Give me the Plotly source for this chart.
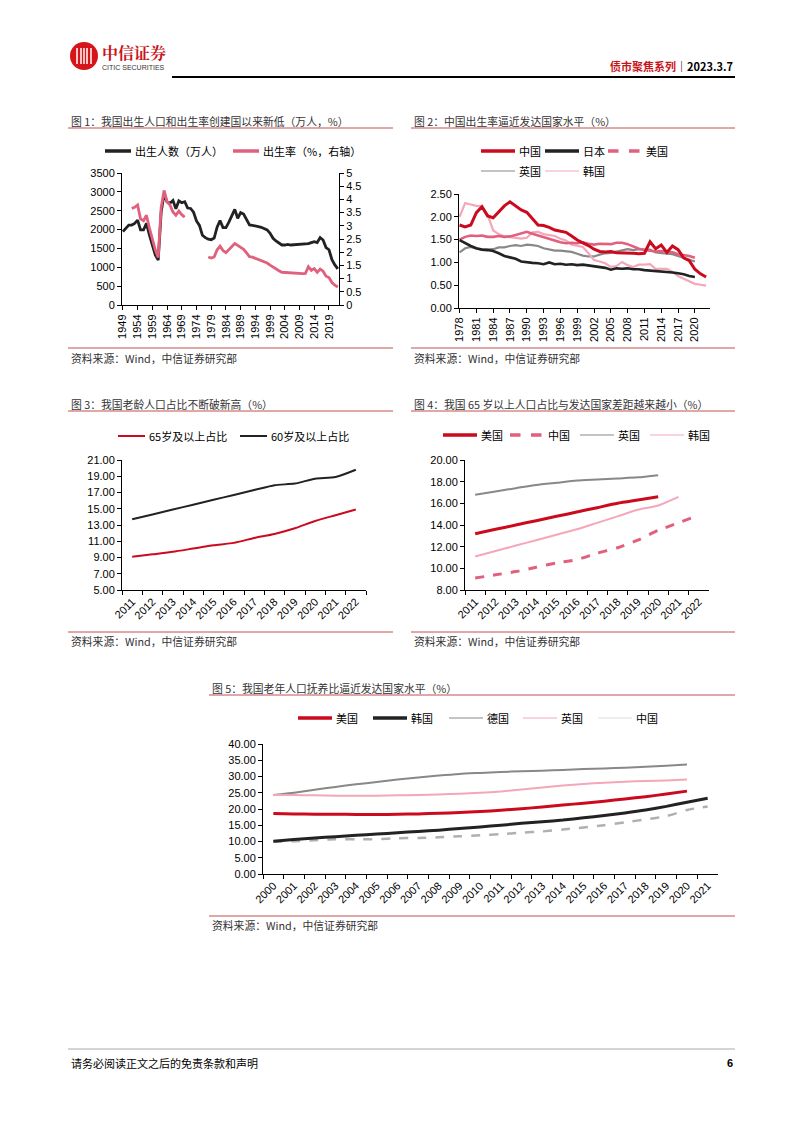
import plotly.graph_objects as go

W, H = 802, 1133
def X(px): return px / W
def Y(py): return 1 - py / H

FONT = "Liberation Sans, Arial, Noto Sans CJK SC, sans-serif"
CJK = "Noto Sans CJK SC, sans-serif"

RED = "#CC0A1E"
BLACK = "#222222"
PINK = "#E0607E"
LPINK = "#F4A7B9"
GRAY = "#888888"
LGRAY = "#B0B0B0"
LINE_RED = "#C0504D"

# ---------------- Data ----------------
# Chart 1: births (万人) 1949-2022 and birth rate (%)
c1_years = list(range(1949, 2023))
c1_births = [1945, 2030, 2120, 2120, 2165, 2250, 1990, 1990, 2165, 1860, 1565, 1330, 1190,
             2460, 2950, 2730, 2700, 2770, 2550, 2760, 2710, 2740, 2570, 2560, 2460, 2230,
             2110, 1850, 1785, 1745, 1730, 1776, 2064, 2237, 2052, 2050, 2196, 2374, 2537,
             2300, 2449, 2413, 2254, 2122, 2113, 2104, 2077, 2060, 2033, 1990, 1900, 1768,
             1697, 1635, 1591, 1591, 1609, 1591, 1594, 1600, 1600, 1609, 1604, 1626, 1653,
             1680, 1655, 1786, 1723, 1523, 1465, 1202, 1062, 956]
c1_rate = [None, None, None, 3.66, 3.70, 3.79, 3.26, 3.19, 3.40, 2.92, 2.48, 2.09, 1.80,
           3.70, 4.34, 3.91, 3.79, 3.52, 3.40, 3.56, 3.42, 3.33, None, None, None, None,
           None, None, None, 1.82, 1.78, 1.82, 2.09, 2.23, 2.06, 1.98, 2.10, 2.24, 2.33,
           2.26, 2.18, 2.11, 1.97, 1.83, 1.81, 1.77, 1.71, 1.69, 1.66, 1.59, 1.51, 1.43,
           1.37, 1.30, 1.24, 1.23, 1.24, 1.21, 1.21, 1.21, 1.20, 1.19, 1.20, 1.45, 1.31,
           1.38, 1.24, 1.36, 1.28, 1.09, 1.04, 0.85, 0.75, 0.68]

# Chart 2: crude birth rate (%) 1978-2022
c2_years = list(range(1978, 2023))
c2_china = [1.82, 1.78, 1.82, 2.09, 2.22, 2.02, 1.98, 2.10, 2.24, 2.33, 2.23, 2.15, 2.10,
            1.97, 1.82, 1.81, 1.77, 1.71, 1.69, 1.66, 1.58, 1.49, 1.43, 1.37, 1.29, 1.24,
            1.23, 1.24, 1.21, 1.21, 1.21, 1.20, 1.19, 1.20, 1.45, 1.30, 1.38, 1.22, 1.36,
            1.28, 1.10, 1.04, 0.85, 0.75, 0.68]
c2_japan = [1.49, 1.42, 1.36, 1.31, 1.28, 1.27, 1.25, 1.20, 1.14, 1.11, 1.08, 1.02, 1.00,
            0.99, 0.98, 0.96, 1.00, 0.96, 0.97, 0.95, 0.96, 0.94, 0.95, 0.93, 0.92, 0.89,
            0.88, 0.84, 0.87, 0.86, 0.87, 0.85, 0.85, 0.83, 0.82, 0.82, 0.80, 0.80, 0.78,
            0.76, 0.74, 0.70, 0.68]
c2_us = [1.50, 1.56, 1.59, 1.58, 1.59, 1.56, 1.56, 1.58, 1.56, 1.57, 1.60, 1.64, 1.67,
         1.63, 1.59, 1.55, 1.52, 1.48, 1.44, 1.42, 1.43, 1.42, 1.44, 1.41, 1.39, 1.41,
         1.40, 1.40, 1.43, 1.43, 1.40, 1.35, 1.30, 1.27, 1.26, 1.24, 1.25, 1.24, 1.22,
         1.18, 1.16, 1.14, 1.10]
c2_uk = [1.22, 1.31, 1.34, 1.30, 1.28, 1.28, 1.29, 1.33, 1.33, 1.36, 1.38, 1.36, 1.39,
         1.38, 1.36, 1.31, 1.29, 1.26, 1.26, 1.25, 1.23, 1.19, 1.15, 1.13, 1.13, 1.17,
         1.20, 1.21, 1.24, 1.26, 1.29, 1.27, 1.29, 1.28, 1.28, 1.22, 1.20, 1.19, 1.18,
         1.14, 1.10, 1.07, 1.02]
c2_korea = [2.00, 2.30, 2.27, 2.24, 2.23, 2.05, 1.70, 1.62, 1.57, 1.55, 1.53, 1.52, 1.54,
            1.66, 1.67, 1.62, 1.60, 1.58, 1.52, 1.48, 1.39, 1.36, 1.34, 1.20, 1.05, 1.02,
            0.98, 0.90, 0.92, 1.01, 0.94, 0.90, 0.95, 0.95, 0.96, 0.86, 0.86, 0.86, 0.79,
            0.70, 0.64, 0.59, 0.53, 0.51, 0.49]

# Chart 3 / 4: share of elderly population (%) 2011-2022
c3_years = [str(y) for y in range(2011, 2023)]
c3_65 = [9.1, 9.4, 9.7, 10.1, 10.5, 10.8, 11.4, 11.9, 12.6, 13.5, 14.2, 14.9]
c3_60 = [13.7, 14.3, 14.9, 15.5, 16.1, 16.7, 17.3, 17.9, 18.1, 18.7, 18.9, 19.8]

c4_us = [13.2, 13.6, 14.0, 14.4, 14.8, 15.2, 15.6, 16.0, 16.3, 16.6]
c4_uk = [16.8, 17.1, 17.4, 17.7, 17.9, 18.1, 18.2, 18.3, 18.4, 18.6]
c4_korea = [11.1, 11.6, 12.1, 12.6, 13.1, 13.6, 14.2, 14.8, 15.4, 15.8, 16.6]
c4_china = c3_65

# Chart 5: old-age dependency ratio (%) 2000-2021
c5_years = [str(y) for y in range(2000, 2022)]
c5_us = [18.6, 18.5, 18.4, 18.4, 18.3, 18.3, 18.4, 18.5, 18.7, 18.9, 19.2, 19.6, 20.1,
         20.6, 21.2, 21.8, 22.4, 23.1, 23.8, 24.6, 25.5]
c5_korea = [10.1, 10.6, 11.1, 11.5, 11.9, 12.3, 12.7, 13.1, 13.5, 14.0, 14.5, 15.0, 15.6,
            16.1, 16.6, 17.3, 18.0, 18.8, 19.7, 20.8, 22.1, 23.3]
c5_germany = [24.3, 25.0, 25.9, 26.8, 27.6, 28.3, 29.1, 29.7, 30.3, 30.8, 31.1, 31.4, 31.6,
              31.8, 32.0, 32.3, 32.5, 32.7, 33.0, 33.3, 33.7]
c5_uk = [24.3, 24.3, 24.2, 24.1, 24.1, 24.1, 24.2, 24.3, 24.5, 24.7, 25.0, 25.4, 26.0,
         26.6, 27.2, 27.7, 28.1, 28.4, 28.6, 28.8, 29.1]
c5_china = [9.9, 10.1, 10.4, 10.7, 10.7, 10.7, 11.0, 11.1, 11.3, 11.6, 11.9, 12.3, 12.7,
            13.1, 13.7, 14.3, 15.0, 15.9, 16.8, 17.8, 19.7, 20.8]

fig = go.Figure()

def line(x, y, xa, ya, color, width, dash="solid", spline=False, name=""):
    fig.add_trace(go.Scatter(x=x, y=y, xaxis=xa, yaxis=ya, mode="lines", name=name,
                             line=dict(color=color, width=width, dash=dash,
                                       shape="spline" if spline else "linear",
                                       smoothing=0.6),
                             connectgaps=False, showlegend=False, hoverinfo="skip"))

# Chart 1
line(c1_years, c1_births, "x", "y", BLACK, 2.8, name="出生人数")
line(c1_years, c1_rate, "x", "y2", PINK, 2.8, name="出生率")
# Chart 2
line(c2_years, c2_uk, "x2", "y3", GRAY, 2.2, name="英国")
line(c2_years, c2_korea, "x2", "y3", LPINK, 2.2, name="韩国")
line(c2_years, c2_us, "x2", "y3", PINK, 2.6, name="美国")
line(c2_years, c2_japan, "x2", "y3", BLACK, 2.6, name="日本")
line(c2_years, c2_china, "x2", "y3", RED, 3, name="中国")
# Chart 3
line(c3_years, c3_65, "x3", "y4", RED, 2, spline=True)
line(c3_years, c3_60, "x3", "y4", BLACK, 2, spline=True)
# Chart 4
line(c3_years[:len(c4_uk)], c4_uk, "x4", "y5", GRAY, 2, spline=True)
line(c3_years[:len(c4_korea)], c4_korea, "x4", "y5", LPINK, 2, spline=True)
line(c3_years, c4_china, "x4", "y5", PINK, 3, dash="dash", spline=True)
line(c3_years[:len(c4_us)], c4_us, "x4", "y5", RED, 3, spline=True)
# Chart 5
line(c5_years[:len(c5_germany)], c5_germany, "x5", "y6", GRAY, 2, spline=True)
line(c5_years[:len(c5_uk)], c5_uk, "x5", "y6", LPINK, 2, spline=True)
line(c5_years, c5_china, "x5", "y6", LGRAY, 2.5, dash="dash", spline=True)
line(c5_years, c5_korea, "x5", "y6", BLACK, 3, spline=True)
line(c5_years[:len(c5_us)], c5_us, "x5", "y6", RED, 3, spline=True)

tickfont = dict(family=FONT, size=11, color="#000000")
axcommon = dict(showgrid=False, zeroline=False, showline=True, linecolor="#000000",
                linewidth=1, ticks="outside", ticklen=4, tickcolor="#000000",
                tickfont=tickfont, fixedrange=True, automargin=False)

layout = dict(
    width=W, height=H, margin=dict(l=0, r=0, t=0, b=0, autoexpand=False),
    paper_bgcolor="white", plot_bgcolor="white", showlegend=False,
    font=dict(family=FONT, size=11, color="#000000"),
    # Chart 1
    xaxis=dict(domain=[X(122), X(339)], anchor="y", range=[1948.7, 2022.4],
               tickvals=list(range(1949, 2020, 5)), tickangle=-90, **axcommon),
    yaxis=dict(domain=[Y(305), Y(173)], anchor="x", range=[0, 3500], dtick=500, **axcommon),
    yaxis2=dict(overlaying="y", anchor="x", side="right", range=[0, 5],
                tickvals=[0, 0.5, 1, 1.5, 2, 2.5, 3, 3.5, 4, 4.5, 5],
                ticktext=["0", "0.5", "1", "1.5", "2", "2.5", "3", "3.5", "4", "4.5", "5"],
                **axcommon),
    # Chart 2
    xaxis2=dict(domain=[X(459), X(710)], anchor="y3", range=[1977.9, 2022.7],
                tickvals=list(range(1978, 2021, 3)), tickangle=-90, **axcommon),
    yaxis3=dict(domain=[Y(308), Y(194)], anchor="x2", range=[0, 2.5], dtick=0.5, tick0=0,
                tickformat=".2f", **axcommon),
    # Chart 3
    xaxis3=dict(domain=[X(122), X(366)], anchor="y4", type="category", tickson="boundaries",
                tickangle=-45, categoryorder="array", categoryarray=c3_years,
                range=[-0.5, len(c3_years) - 0.5], **axcommon),
    yaxis4=dict(domain=[Y(590), Y(460)], anchor="x3", range=[5, 21], dtick=2, tick0=5,
                tickformat=".2f", **axcommon),
    # Chart 4
    xaxis4=dict(domain=[X(465), X(709)], anchor="y5", type="category", tickson="boundaries",
                tickangle=-45, categoryorder="array", categoryarray=c3_years,
                range=[-0.5, len(c3_years) - 0.5], **axcommon),
    yaxis5=dict(domain=[Y(590), Y(460)], anchor="x4", range=[8, 20], dtick=2, tick0=8,
                tickformat=".2f", **axcommon),
    # Chart 5
    xaxis5=dict(domain=[X(263), X(718)], anchor="y6", type="category", tickson="boundaries",
                tickangle=-45, categoryorder="array", categoryarray=c5_years,
                range=[-0.5, len(c5_years) - 0.5], **axcommon),
    yaxis6=dict(domain=[Y(874), Y(744)], anchor="x5", range=[0, 40], dtick=5, tick0=0,
                tickformat=".2f", **axcommon),
)
fig.update_layout(**layout)

shapes = []
annotations = []

def hline(x0, x1, y, color, width, dash="solid"):
    shapes.append(dict(type="line", xref="paper", yref="paper", x0=X(x0), x1=X(x1),
                       y0=Y(y), y1=Y(y), line=dict(color=color, width=width, dash=dash)))

def text(x, y, s, size=11, color="#000000", anchor="left", bold=False, family=CJK):
    if bold:
        s = "<b>" + s + "</b>"
    annotations.append(dict(xref="paper", yref="paper", x=X(x), y=Y(y), text=s,
                            showarrow=False, xanchor=anchor, yanchor="middle",
                            font=dict(family=family, size=size, color=color)))

def legend_item(x, y, label, color, width, dash="solid", length=34):
    hline(x, x + length, y, color, width, dash)
    text(x + length + 2, y, label, size=11)

# Header
shapes.append(dict(type="circle", xref="paper", yref="paper", x0=X(70), x1=X(98),
                    y0=Y(70), y1=Y(42), fillcolor="#D7141A", line=dict(width=0)))
for xx in [77, 81, 84, 87, 91]:
    shapes.append(dict(type="line", xref="paper", yref="paper", x0=X(xx), x1=X(xx),
                       y0=Y(64), y1=Y(48), line=dict(color="white", width=1.5)))
text(100, 52, "中信证券", size=16, color="#C8141A", bold=True, family="Noto Serif CJK SC, Noto Sans CJK SC")
text(100, 67.5, "CITIC SECURITIES", size=7, color="#333333", family=FONT)
text(735, 66, "<span style='color:#C8141A'>债市聚焦系列</span>｜2023.3.7", size=11,
     anchor="right", bold=True)
hline(172, 735, 77, "#000000", 2)

# Titles and title rules
TS = 10.8
text(69, 121, "图 1：我国出生人口和出生率创建国以来新低（万人，%）", size=TS, color="#333333")
hline(68, 393, 128, LINE_RED, 1)
text(412, 121, "图 2：中国出生率逼近发达国家水平（%）", size=TS, color="#333333")
hline(411, 735, 128, LINE_RED, 1)
text(69, 404, "图 3：我国老龄人口占比不断破新高（%）", size=TS, color="#333333")
hline(68, 393, 411, LINE_RED, 1)
text(412, 404, "图 4：我国 65 岁以上人口占比与发达国家差距越来越小（%）", size=TS, color="#333333")
hline(411, 735, 411, LINE_RED, 1)
text(210, 688, "图 5：我国老年人口抚养比逼近发达国家水平（%）", size=TS, color="#333333")
hline(209, 735, 695, LINE_RED, 1)

# Sources
for (x0, x1, yl, yt) in [(68, 393, 348, 358), (411, 735, 348, 358),
                         (68, 393, 632, 641), (411, 735, 632, 641), (209, 735, 916, 925)]:
    hline(x0, x1, yl, LINE_RED, 1)
    text(x0 + 1, yt, "资料来源：Wind，中信证券研究部", size=10.8, color="#333333")

# Legends
legend_item(105, 151, "出生人数（万人）", BLACK, 3.5, length=26)
legend_item(233, 151, "出生率（%，右轴）", PINK, 3.5, length=26)

legend_item(481, 151, "中国", RED, 3.5)
legend_item(545, 151, "日本", BLACK, 3.5)
legend_item(608, 151, "美国", PINK, 3.5, dash="dash")
legend_item(481, 171, "英国", GRAY, 1)
legend_item(545, 171, "韩国", LPINK, 1)

legend_item(118, 436, "65岁及以上占比", RED, 2, length=27)
legend_item(240, 436, "60岁及以上占比", BLACK, 2, length=27)

legend_item(443, 435, "美国", RED, 3.5)
legend_item(510, 435, "中国", PINK, 3.5, dash="dash")
legend_item(580, 435, "英国", GRAY, 1)
legend_item(650, 435, "韩国", LPINK, 1)

legend_item(298, 718, "美国", RED, 3.5)
legend_item(373, 718, "韩国", BLACK, 3.5)
legend_item(449, 718, "德国", GRAY, 1)
legend_item(523, 718, "英国", LPINK, 1)
legend_item(598, 718, "中国", "#DDDDDD", 1)

# Footer
hline(68, 735, 1049, "#AAAAAA", 1)
text(69, 1063, "请务必阅读正文之后的免责条款和声明", size=11, color="#000000")
text(735, 1063, "6", size=11, anchor="right", bold=True, family=FONT)

fig.update_layout(shapes=shapes, annotations=annotations)
fig.write_html("out.html", config={"displayModeBar": False, "staticPlot": True},
               post_script="document.body.style.margin='0';document.body.style.overflow='hidden';")
